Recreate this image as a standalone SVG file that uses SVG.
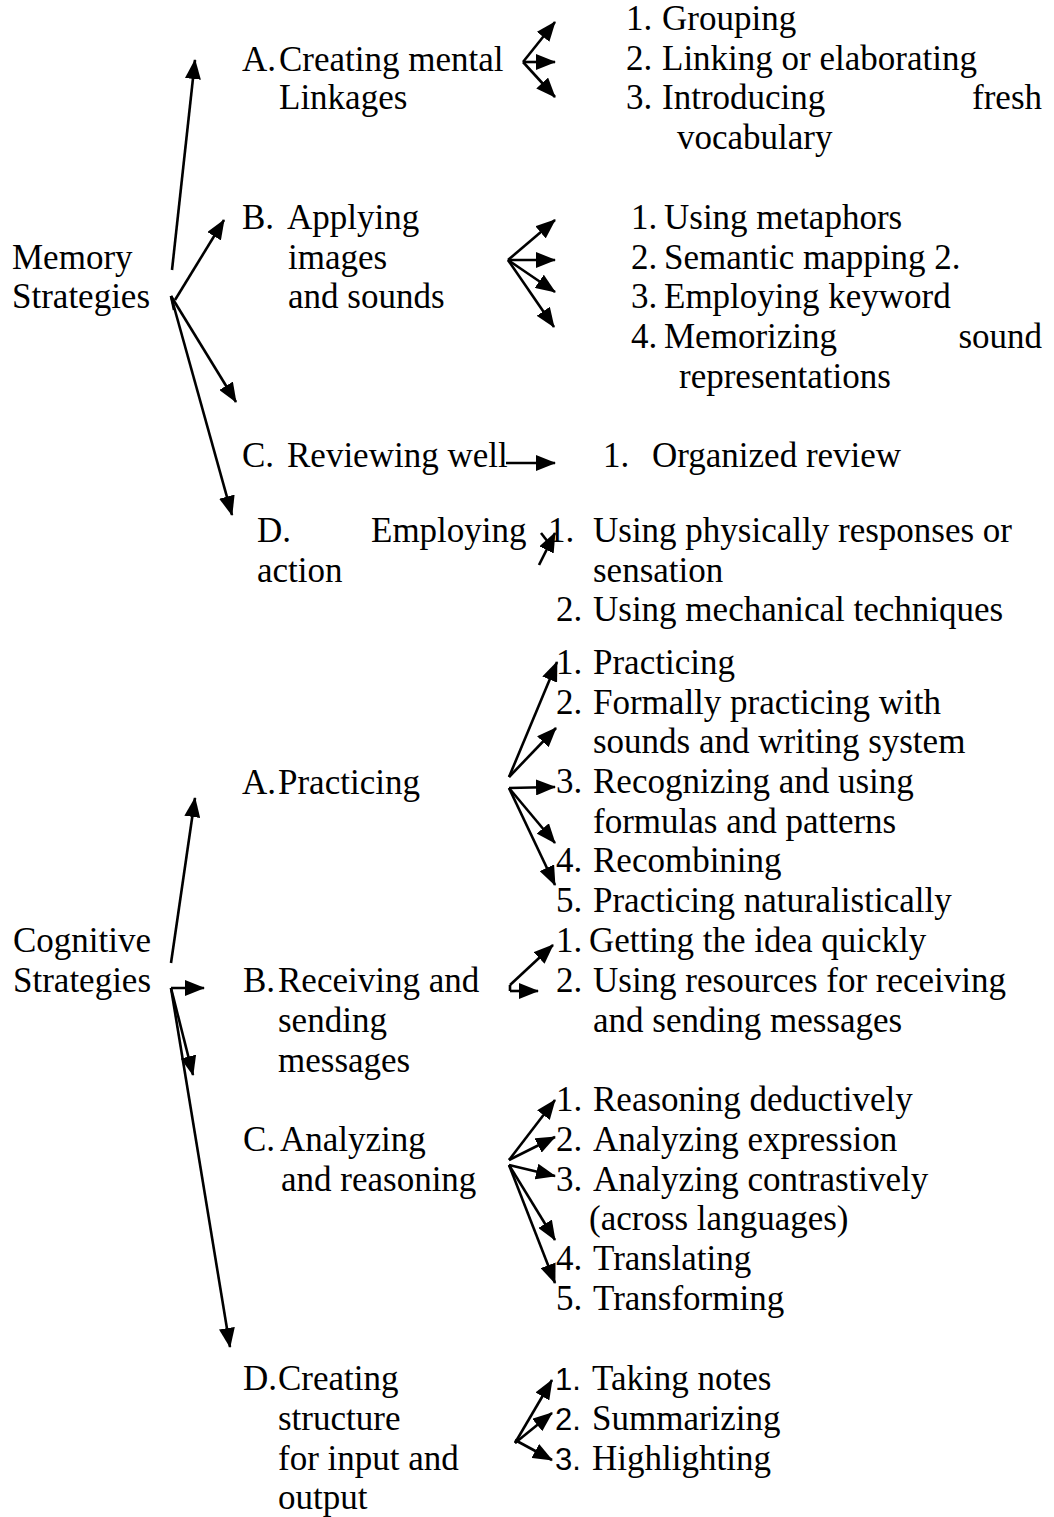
<svg xmlns="http://www.w3.org/2000/svg" width="1054" height="1517" viewBox="0 0 1054 1517">
<style>
text{font-family:"Liberation Serif","Times New Roman",serif;font-size:35px;fill:#000}
.sans{font-family:"Liberation Sans",Arial,sans-serif;font-size:31px}
.c line{stroke:#000;stroke-width:2.6;fill:none;marker-end:url(#ah)}
.c line.n{marker-end:none}
</style>
<defs>
<marker id="ah" viewBox="0 0 20 16" refX="19" refY="8" markerWidth="20" markerHeight="16" markerUnits="userSpaceOnUse" orient="auto">
<path d="M0,0 L20,8 L0,16 z" fill="#000"/>
</marker>
</defs>
<rect width="1054" height="1517" fill="#fff"/>

<g id="connectors" class="c">
<line x1="172" y1="270" x2="195" y2="60"/>
<line x1="175" y1="300" x2="224" y2="220"/>
<line x1="171" y1="296" x2="236" y2="402"/>
<line x1="171" y1="296" x2="232" y2="515"/>
<line class="n" x1="171" y1="296" x2="174" y2="310"/>
<line x1="523" y1="62" x2="555" y2="22"/>
<line x1="523" y1="62" x2="555" y2="62"/>
<line x1="523" y1="62" x2="555" y2="97"/>
<line x1="508" y1="260" x2="555" y2="220"/>
<line x1="508" y1="260" x2="555" y2="260"/>
<line x1="508" y1="260" x2="555" y2="292"/>
<line x1="508" y1="260" x2="554" y2="327"/>
<line x1="506" y1="463" x2="555" y2="463"/>
<line x1="539" y1="565" x2="555" y2="533"/>
<line class="n" x1="541" y1="533" x2="548" y2="542"/>
<line x1="171" y1="963" x2="195" y2="798"/>
<line x1="171" y1="988" x2="204" y2="988"/>
<line x1="171" y1="988" x2="193" y2="1075"/>
<line x1="171" y1="988" x2="230" y2="1347"/>
<line x1="509" y1="777" x2="557" y2="662"/>
<line x1="509" y1="777" x2="556" y2="728"/>
<line x1="509" y1="788" x2="555" y2="787"/>
<line x1="509" y1="788" x2="555" y2="843"/>
<line x1="509" y1="788" x2="555" y2="885"/>
<line x1="510" y1="985" x2="553" y2="945"/>
<line class="n" x1="510" y1="985" x2="510" y2="991"/>
<line x1="510" y1="991" x2="538" y2="991"/>
<line x1="509" y1="1160" x2="555" y2="1100"/>
<line x1="509" y1="1160" x2="555" y2="1137"/>
<line x1="509" y1="1165" x2="555" y2="1176"/>
<line x1="509" y1="1165" x2="555" y2="1240"/>
<line x1="509" y1="1165" x2="555" y2="1283"/>
<line x1="515" y1="1443" x2="552" y2="1380"/>
<line x1="515" y1="1443" x2="552" y2="1413"/>
<line x1="515" y1="1440" x2="552" y2="1460"/>
</g>

<g id="memory-strategies"><text><tspan x="12" y="269">Memory</tspan><tspan x="12" y="308">Strategies</tspan></text></g>

<g id="mem-a"><text><tspan x="242" y="71">A.</tspan><tspan x="279" y="71">Creating mental</tspan><tspan x="279" y="109">Linkages</tspan></text></g>
<g id="mem-a-items"><text><tspan x="626" y="30">1.</tspan><tspan x="662" y="30">Grouping</tspan><tspan x="626" y="70">2.</tspan><tspan x="662" y="70">Linking or elaborating</tspan><tspan x="626" y="109">3.</tspan><tspan x="662" y="109">Introducing</tspan><tspan x="1042" y="109" text-anchor="end">fresh</tspan><tspan x="677" y="149">vocabulary</tspan></text></g>

<g id="mem-b"><text><tspan x="242" y="229">B.</tspan><tspan x="287" y="229">Applying</tspan><tspan x="288" y="269">images</tspan><tspan x="288" y="308">and sounds</tspan></text></g>
<g id="mem-b-items"><text><tspan x="631" y="229">1.</tspan><tspan x="664" y="229">Using metaphors</tspan><tspan x="631" y="269">2.</tspan><tspan x="664" y="269">Semantic mapping 2.</tspan><tspan x="631" y="308">3.</tspan><tspan x="664" y="308">Employing keyword</tspan><tspan x="631" y="348">4.</tspan><tspan x="664" y="348">Memorizing</tspan><tspan x="1042" y="348" text-anchor="end">sound</tspan><tspan x="679" y="388">representations</tspan></text></g>

<g id="mem-c"><text><tspan x="242" y="467">C.</tspan><tspan x="287" y="467">Reviewing well</tspan></text></g>
<g id="mem-c-items"><text><tspan x="603" y="467">1.</tspan><tspan x="652" y="467">Organized review</tspan></text></g>

<g id="mem-d"><text><tspan x="257" y="542">D.</tspan><tspan x="371" y="542">Employing</tspan><tspan x="257" y="582">action</tspan></text></g>
<g id="mem-d-items"><text><tspan x="548" y="542">1.</tspan><tspan x="593" y="542">Using physically responses or</tspan><tspan x="593" y="582">sensation</tspan><tspan x="556" y="621">2.</tspan><tspan x="593" y="621">Using mechanical techniques</tspan></text></g>

<g id="cognitive-strategies"><text><tspan x="13" y="952">Cognitive</tspan><tspan x="13" y="992">Strategies</tspan></text></g>

<g id="cog-a"><text><tspan x="242" y="794">A.</tspan><tspan x="278" y="794">Practicing</tspan></text></g>
<g id="cog-a-items"><text><tspan x="556" y="674">1.</tspan><tspan x="593" y="674">Practicing</tspan><tspan x="556" y="714">2.</tspan><tspan x="593" y="714">Formally practicing with</tspan><tspan x="593" y="753">sounds and writing system</tspan><tspan x="556" y="793">3.</tspan><tspan x="593" y="793">Recognizing and using</tspan><tspan x="593" y="833">formulas and patterns</tspan><tspan x="556" y="872">4.</tspan><tspan x="593" y="872">Recombining</tspan><tspan x="556" y="912">5.</tspan><tspan x="593" y="912">Practicing naturalistically</tspan></text></g>

<g id="cog-b"><text><tspan x="243" y="992">B.</tspan><tspan x="278" y="992">Receiving and</tspan><tspan x="278" y="1032">sending</tspan><tspan x="278" y="1072">messages</tspan></text></g>
<g id="cog-b-items"><text><tspan x="556" y="952">1.</tspan><tspan x="589" y="952">Getting the idea quickly</tspan><tspan x="556" y="992">2.</tspan><tspan x="593" y="992">Using resources for receiving</tspan><tspan x="593" y="1032">and sending messages</tspan></text></g>

<g id="cog-c"><text><tspan x="243" y="1151">C.</tspan><tspan x="280" y="1151">Analyzing</tspan><tspan x="281" y="1191">and reasoning</tspan></text></g>
<g id="cog-c-items"><text><tspan x="556" y="1111">1.</tspan><tspan x="593" y="1111">Reasoning deductively</tspan><tspan x="556" y="1151">2.</tspan><tspan x="593" y="1151">Analyzing expression</tspan><tspan x="556" y="1191">3.</tspan><tspan x="593" y="1191">Analyzing contrastively</tspan><tspan x="589" y="1230">(across languages)</tspan><tspan x="556" y="1270">4.</tspan><tspan x="593" y="1270">Translating</tspan><tspan x="556" y="1310">5.</tspan><tspan x="593" y="1310">Transforming</tspan></text></g>

<g id="cog-d"><text><tspan x="243" y="1390">D.</tspan><tspan x="278" y="1390">Creating</tspan><tspan x="278" y="1430">structure</tspan><tspan x="278" y="1470">for input and</tspan><tspan x="278" y="1509">output</tspan></text></g>
<g id="cog-d-items"><text><tspan class="sans" x="555" y="1390">1.</tspan><tspan x="592" y="1390">Taking notes</tspan><tspan class="sans" x="555" y="1430">2.</tspan><tspan x="592" y="1430">Summarizing</tspan><tspan class="sans" x="555" y="1470">3.</tspan><tspan x="592" y="1470">Highlighting</tspan></text></g>
</svg>
